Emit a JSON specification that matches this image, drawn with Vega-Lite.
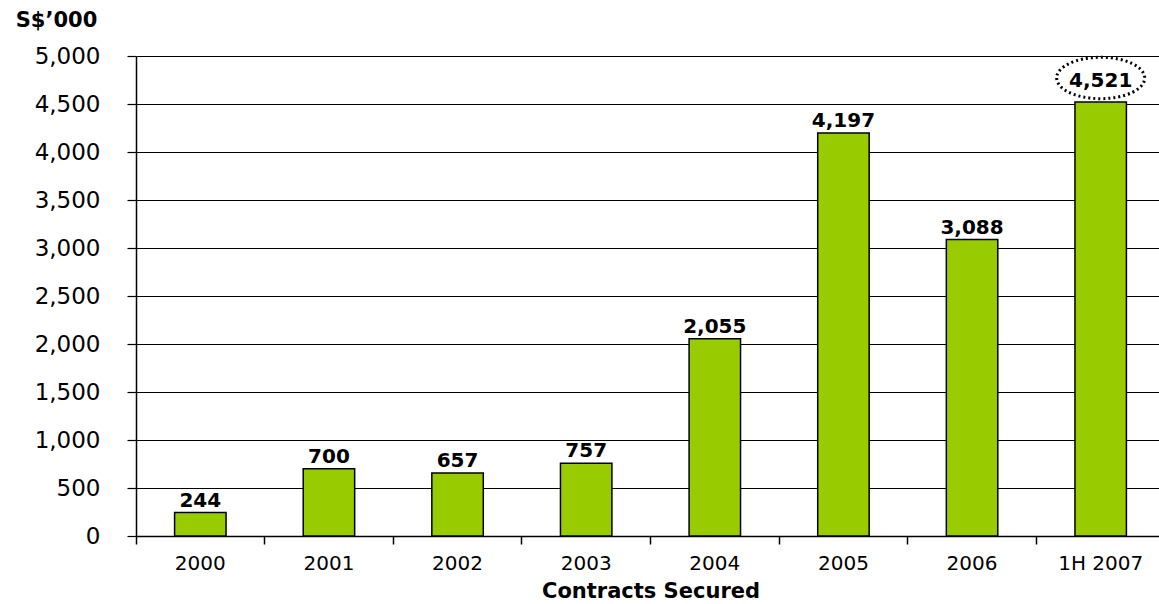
{
  "$schema": "https://vega.github.io/schema/vega-lite/v6.json",
  "autosize": {"type": "none"},
  "padding": {"left": 136, "top": 56, "right": 0, "bottom": 68},
  "width": 1029,
  "height": 480,
  "background": "white",
  "config": {
    "font": "DejaVu Sans",
    "view": {"stroke": null}
  },
  "data": {
    "values": [
      {"period": "2000", "value": 244, "label": "244"},
      {"period": "2001", "value": 700, "label": "700"},
      {"period": "2002", "value": 657, "label": "657"},
      {"period": "2003", "value": 757, "label": "757"},
      {"period": "2004", "value": 2055, "label": "2,055"},
      {"period": "2005", "value": 4197, "label": "4,197"},
      {"period": "2006", "value": 3088, "label": "3,088"},
      {"period": "1H 2007", "value": 4521, "label": "4,521"}
    ]
  },
  "encoding": {
    "x": {
      "field": "period",
      "type": "nominal",
      "sort": null,
      "scale": {"paddingInner": 0, "paddingOuter": 0},
      "axis": {
        "title": "Contracts Secured",
        "titleFont": "DejaVu Sans",
        "titleFontSize": 21,
        "titleFontWeight": "bold",
        "titleColor": "black",
        "titlePadding": 7,
        "labelFont": "DejaVu Sans",
        "labelFontSize": 20,
        "labelColor": "black",
        "labelAngle": 0,
        "labelPadding": 9,
        "bandPosition": 0,
        "tickSize": 8,
        "tickColor": "black",
        "tickWidth": 1.5,
        "domainColor": "black",
        "domainWidth": 1.5,
        "grid": false
      }
    }
  },
  "layer": [
    {
      "mark": {"type": "bar", "width": {"band": 0.4}, "color": "#99CC00", "stroke": "black", "strokeWidth": 1.5},
      "encoding": {
        "y": {
          "field": "value",
          "type": "quantitative",
          "scale": {"domain": [0, 5000], "nice": false},
          "axis": {
            "values": [0, 500, 1000, 1500, 2000, 2500, 3000, 3500, 4000, 4500, 5000],
            "format": ",d",
            "title": "S$’000",
            "titleFont": "DejaVu Sans",
            "titleAngle": 0,
            "titleAlign": "center",
            "titleBaseline": "alphabetic",
            "titleX": -80,
            "titleY": -30,
            "titleFontSize": 21,
            "titleFontWeight": "bold",
            "titleColor": "black",
            "labelFont": "DejaVu Sans",
            "labelFontSize": 23,
            "labelColor": "black",
            "labelPadding": 27,
            "tickSize": 9,
            "tickColor": "black",
            "tickWidth": 1.2,
            "domainColor": "black",
            "domainWidth": 1.5,
            "grid": true,
            "gridColor": "black",
            "gridWidth": 1.2,
            "gridOpacity": 1
          }
        }
      }
    },
    {
      "transform": [{"filter": "datum.period !== '1H 2007'"}],
      "mark": {"type": "text", "font": "DejaVu Sans", "fontSize": 20, "fontWeight": "bold", "baseline": "alphabetic", "dy": -6, "color": "black"},
      "encoding": {
        "y": {"field": "value", "type": "quantitative"},
        "text": {"field": "label"}
      }
    },
    {
      "transform": [{"filter": "datum.period === '1H 2007'"}],
      "mark": {"type": "text", "font": "DejaVu Sans", "fontSize": 20, "fontWeight": "bold", "baseline": "alphabetic", "dy": -15, "color": "black"},
      "encoding": {
        "y": {"field": "value", "type": "quantitative"},
        "text": {"field": "label"}
      }
    },
    {
      "transform": [{"filter": "datum.period === '1H 2007'"}],
      "mark": {
        "type": "point",
        "shape": "M -1 0 A 1 0.47 0 1 0 1 0 A 1 0.47 0 1 0 -1 0 Z",
        "size": 7744,
        "filled": false,
        "stroke": "black",
        "strokeWidth": 3,
        "strokeDash": [2, 3],
        "opacity": 1,
        "yOffset": -24
      },
      "encoding": {
        "y": {"field": "value", "type": "quantitative"}
      }
    }
  ]
}
